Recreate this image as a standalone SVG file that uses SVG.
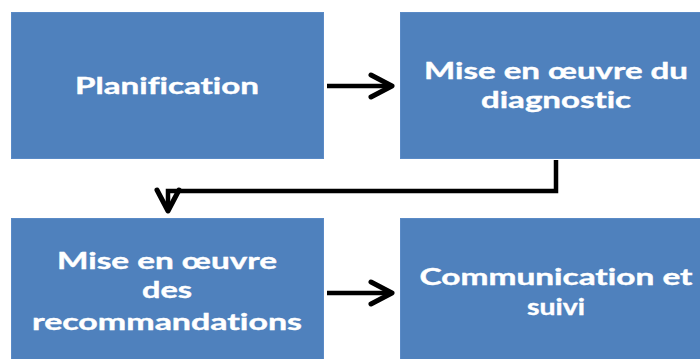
<svg xmlns="http://www.w3.org/2000/svg" width="700" height="359" viewBox="0 0 700 359">
  <defs>
    <style>
      .box { fill: #4F81BD; stroke: #5A8AC6; stroke-width: 1; }
      .lbl { fill: #FFFFFF; font-family: Lato, "Open Sans", "DejaVu Sans", sans-serif; font-weight: bold; font-size: 23.5px; text-anchor: middle; font-variant-ligatures: none; stroke: #FFFFFF; stroke-width: 0.4; }
      .wire { fill: none; stroke: #000000; stroke-width: 4.5; }
    </style>
    <!-- open chevron head, drawn in user units -->
    <marker id="chev" viewBox="0 0 30 28" refX="26" refY="14" markerWidth="30" markerHeight="28" markerUnits="userSpaceOnUse" orient="auto">
      <path d="M5,3 L26,14 L5,25" fill="none" stroke="#000" stroke-width="5" stroke-linecap="round" stroke-linejoin="round"/>
    </marker>
  </defs>

  <g id="planification">
    <rect class="box" x="11.5" y="12.5" width="312" height="146"/>
    <text class="lbl" x="167" y="94" textLength="184" lengthAdjust="spacingAndGlyphs">Planification</text>
  </g>

  <g id="diagnostic">
    <rect class="box" x="400.5" y="12.5" width="312" height="146"/>
    <text class="lbl" x="556" y="79" textLength="264" lengthAdjust="spacingAndGlyphs">Mise en œuvre du</text>
    <text class="lbl" x="556" y="108" textLength="150" lengthAdjust="spacingAndGlyphs">diagnostic</text>
  </g>

  <g id="recommandations">
    <rect class="box" x="11.5" y="218.5" width="312" height="146"/>
    <text class="lbl" x="167" y="269" textLength="220" lengthAdjust="spacingAndGlyphs">Mise en œuvre</text>
    <text class="lbl" x="167" y="298" textLength="50" lengthAdjust="spacingAndGlyphs">des</text>
    <text class="lbl" x="167" y="330" textLength="270" lengthAdjust="spacingAndGlyphs">recommandations</text>
  </g>

  <g id="communication">
    <rect class="box" x="400.5" y="218.5" width="312" height="146"/>
    <text class="lbl" x="556" y="285" textLength="273" lengthAdjust="spacingAndGlyphs">Communication et</text>
    <text class="lbl" x="556" y="315" textLength="58" lengthAdjust="spacingAndGlyphs">suivi</text>
  </g>

  <g id="connectors">
    <path class="wire" d="M327,86 L392,86" marker-end="url(#chev)"/>
    <path class="wire" d="M556,160 L556,191 L168,191 L168,211" marker-end="url(#chev)"/>
    <path class="wire" d="M327,293 L392,293" marker-end="url(#chev)"/>
  </g>
</svg>
